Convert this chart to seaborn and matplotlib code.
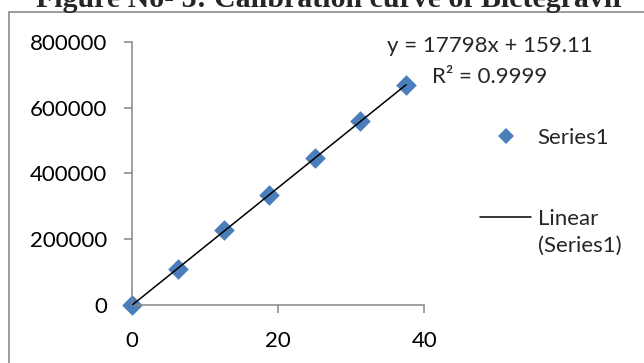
import numpy as np
import pandas as pd
import matplotlib
matplotlib.use("Agg")
import matplotlib.pyplot as plt
import seaborn as sns
from matplotlib.lines import Line2D
from matplotlib.patches import Rectangle

# calibration data
conc = [0, 6.25, 12.5, 18.75, 25, 31.25, 37.5]
area = [0, 108000, 228000, 334000, 446000, 558000, 668000]
x_ticks = [0, 20, 40]
y_ticks = [0, 200000, 400000, 600000, 800000]

TITLE = "Figure No- 3: Calibration curve of Bictegravir"
POINT_BLUE = "#4A7EBB"
AXIS_GRAY = "#868686"

df = pd.DataFrame({"conc": conc, "area": area})

sns.set_theme(style="white")
plt.rcParams["font.family"] = ["Lato", "DejaVu Sans"]

fig = plt.figure(figsize=(6.44, 3.63), dpi=100)
ax = fig.add_axes([0.2054, 0.1598, 0.4534, 0.7253])

# chart border (cut off at right and bottom like the source image)
fig.patches.append(Rectangle((9 / 644, -0.2), 1.2, 1 - 12 / 363 + 0.2,
                             transform=fig.transFigure, fill=False,
                             edgecolor="#8c8c8c", linewidth=1.2))
fig.text(0.514, 1 - 7 / 363, TITLE, ha="center", va="baseline",
         fontsize=21.5, fontweight="bold", family="Liberation Serif")

# linear trendline
slope, intercept = np.polyfit(df["conc"], df["area"], 1)
fit_x = np.array([df["conc"].min(), df["conc"].max()])
sns.lineplot(x=fit_x, y=slope * fit_x + intercept, ax=ax, color="black",
             linewidth=1.1, zorder=3)
sns.scatterplot(data=df, x="conc", y="area", ax=ax, marker="D", s=110,
                color=POINT_BLUE, edgecolor=POINT_BLUE, linewidth=0,
                zorder=2, clip_on=False)

fig.text(490 / 644, 1 - 46 / 363, "y = 17798x + 159.11", ha="center",
         va="center", fontsize=16)
fig.text(490 / 644, 1 - 77 / 363, "R² = 0.9999", ha="center",
         va="center", fontsize=16)

ax.set_xlim(0, 40)
ax.set_ylim(0, 800000)
ax.set_xticks(x_ticks)
ax.set_yticks(y_ticks)
ax.set_xticklabels([str(t) for t in x_ticks])
ax.set_yticklabels([str(t) for t in y_ticks])
ax.set_xlabel("")
ax.set_ylabel("")
for side in ["top", "right"]:
    ax.spines[side].set_visible(False)
for side in ["left", "bottom"]:
    ax.spines[side].set_color(AXIS_GRAY)
    ax.spines[side].set_linewidth(1.1)
ax.tick_params(axis="both", which="both", direction="out", length=6,
               width=1.1, color=AXIS_GRAY, labelsize=16, labelcolor="black",
               left=True, bottom=True)
ax.tick_params(axis="x", pad=13)
ax.tick_params(axis="y", pad=12)
ax.patch.set_alpha(0)

handles = [
    Line2D([], [], linestyle="none", marker="D", markersize=8,
           color=POINT_BLUE, markeredgewidth=0),
    Line2D([], [], color="black", linewidth=1.1),
]
leg = fig.legend(handles, ["Series1", "Linear\n(Series1)"], loc="upper left",
                 bbox_to_anchor=(480 / 644, 1 - 128 / 363), frameon=False,
                 fontsize=16, handlelength=2.3, handletextpad=0.3,
                 labelspacing=2.75, borderpad=0, borderaxespad=0)
leg.get_texts()[1].set_linespacing(1.4)
# keep the trendline handle level with the first text line
for hp in leg._legend_handle_box.get_children()[0].get_children():
    hp.align = "top"

fig.savefig("out.png", dpi=100)
